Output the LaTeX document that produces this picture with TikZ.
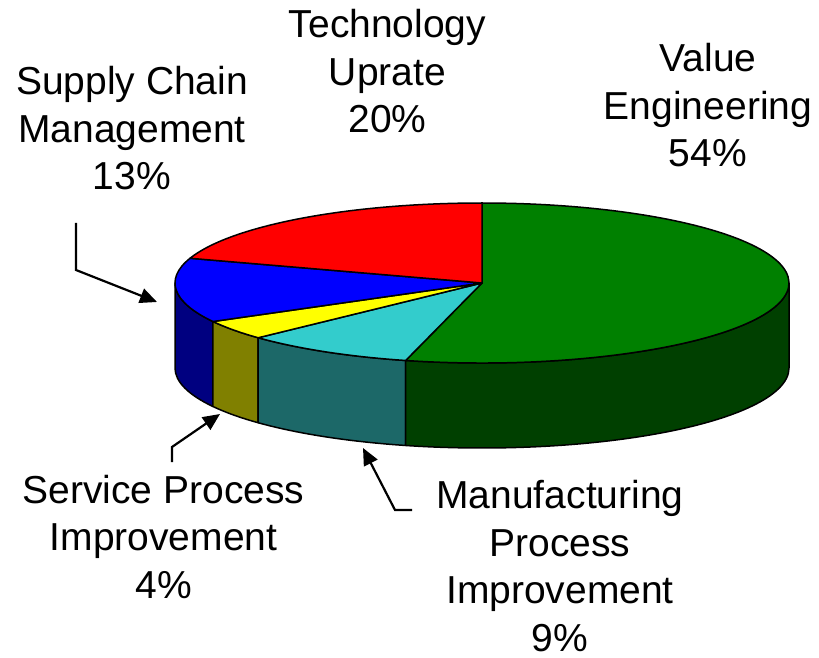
\documentclass[tikz,border=0pt]{standalone}
\usepackage{fontspec}
\setmainfont{Liberation Sans}
\usetikzlibrary{arrows.meta}
\definecolor{ve}{RGB}{0,128,0}
\definecolor{veside}{RGB}{0,64,0}
\definecolor{mpi}{RGB}{51,204,204}
\definecolor{mpiside}{RGB}{28,104,104}
\definecolor{spi}{RGB}{255,255,0}
\definecolor{spiside}{RGB}{128,128,0}
\definecolor{scm}{RGB}{0,0,255}
\definecolor{scmside}{RGB}{0,0,128}
\definecolor{tu}{RGB}{255,0,0}
\begin{document}
\begin{tikzpicture}[x=1pt,y=1pt,
    slice/.style={draw=black,line width=1.5pt,line join=round},
    lbl/.style={align=center,inner sep=0pt,anchor=base,font=\fontsize{39}{47.5}\selectfont},
    lead/.style={line width=2.2pt,-{Triangle[length=17pt,width=15pt]}}]
  \useasboundingbox (0,0) rectangle (819,657);
  \coordinate (c) at (482,374);
  % rim of the pie
  \foreach \a/\b/\col in {-180/-151.2/scmside,-151.2/-136.8/spiside,-136.8/-104.4/mpiside,-104.4/0/veside} {%
    \filldraw[slice,fill=\col] (c) ++(\a:307 and 80)
      arc[start angle=\a,end angle=\b,x radius=307,y radius=80] -- ++(0,-85)
      arc[start angle=\b,end angle=\a,x radius=307,y radius=80] -- cycle;
  }
  % top of the pie
  \foreach \a/\b/\col in {-104.4/90/ve,-136.8/-104.4/mpi,-151.2/-136.8/spi,-198/-151.2/scm,-270/-198/tu} {%
    \filldraw[slice,fill=\col] (c) -- ++(\a:307 and 80)
      arc[start angle=\a,end angle=\b,x radius=307,y radius=80] -- cycle;
  }
  % labels (base = last line)
  \node[lbl] (tu-lbl) at (387.5,524) {Technology\\Uprate\\20\%};
  \node[lbl] (ve-lbl) at (708,490) {Value\\Engineering\\54\%};
  \node[lbl] (scm-lbl) at (132,467) {Supply Chain\\Management\\13\%};
  \node[lbl] (spi-lbl) at (163.5,59) {Service Process\\Improvement\\4\%};
  \node[lbl] (mpi-lbl) at (560,6) {Manufacturing\\Process\\Improvement\\9\%};
  \coordinate (scm-end) at (76,434);
  \coordinate (scm-tip) at (157,355);
  \coordinate (spi-end) at (172,195);
  \coordinate (spi-tip) at (220,243);
  \coordinate (mpi-end) at (412,147);
  \coordinate (mpi-tip) at (363,209);
  \draw[lead] (scm-end) -- ++(0,-47) -- (scm-tip);
  \draw[lead] (spi-end) -- ++(0,15) -- (spi-tip);
  \draw[lead] (mpi-end) -- ++(-17,0) -- (mpi-tip);
\end{tikzpicture}
\end{document}
